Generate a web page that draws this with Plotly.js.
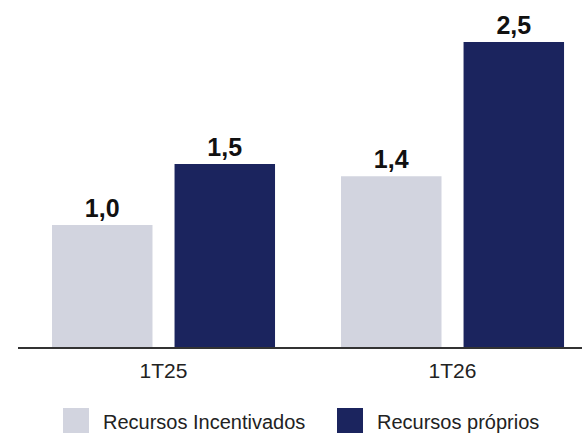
<!DOCTYPE html>
<html>
<head>
<meta charset="utf-8">
<script src="https://cdn.plot.ly/plotly-3.0.1.min.js"></script>
<style>html,body{margin:0;padding:0;background:#fff;}#chart{width:582px;height:433px;}</style>
</head>
<body>
<div id="chart"></div>
<script>
const categories = ["1T25", "1T26"];
const seriesNames = ["Recursos Incentivados", "Recursos próprios"];
const seriesColors = ["#D2D4DF", "#1B245E"];
const incentivados = [1.0, 1.4];
const proprios = [1.5, 2.5];
const labelsIncentivados = ["1,0", "1,4"];
const labelsProprios = ["1,5", "2,5"];

const FONT = "Liberation Sans, Arial, sans-serif";
const textFont = {family: FONT, size: 25, color: "#111111", weight: "bold"};

const traces = [
  {
    type: "bar", name: seriesNames[0], x: categories, y: incentivados,
    text: labelsIncentivados, textposition: "outside", textfont: textFont,
    marker: {color: seriesColors[0]}, cliponaxis: false, hoverinfo: "skip", showlegend: false
  },
  {
    type: "bar", name: seriesNames[1], x: categories, y: proprios,
    text: labelsProprios, textposition: "outside", textfont: textFont,
    marker: {color: seriesColors[1]}, cliponaxis: false, hoverinfo: "skip", showlegend: false
  }
];

// Legend drawn as boxes + text below the plot
const legendBoxes = [[0.0798, 0.1259], [0.5656, 0.6117]];
const legendTextX = [0.1472, 0.633];
const shapes = legendBoxes.map((b, i) => ({
  type: "rect", xref: "paper", yref: "paper",
  x0: b[0], x1: b[1], y0: -0.27, y1: -0.1865,
  fillcolor: seriesColors[i], line: {width: 0}
}));
const annotations = seriesNames.map((n, i) => ({
  text: n, xref: "paper", yref: "paper", x: legendTextX[i], y: -0.229,
  xanchor: "left", yanchor: "middle", showarrow: false,
  font: {family: FONT, size: 20, color: "#222222"}
}));

const layout = {
  width: 582, height: 433,
  margin: {l: 18, r: 0, t: 20, b: 86},
  paper_bgcolor: "#ffffff", plot_bgcolor: "#ffffff",
  barmode: "group", bargap: 0.152, bargroupgap: 0.18,
  font: {family: FONT, color: "#222222"},
  xaxis: {
    type: "category", range: [-0.5035, 1.448],
    showline: true, linecolor: "#333333", linewidth: 1.5,
    showgrid: false, zeroline: false, ticks: "",
    tickfont: {size: 21, color: "#222222"}, ticklabelstandoff: 4
  },
  yaxis: {
    range: [0, 2.68], visible: false, showgrid: false, zeroline: false
  },
  showlegend: false,
  shapes: shapes,
  annotations: annotations
};

Plotly.newPlot("chart", traces, layout, {displayModeBar: false, staticPlot: true});
</script>
</body>
</html>
